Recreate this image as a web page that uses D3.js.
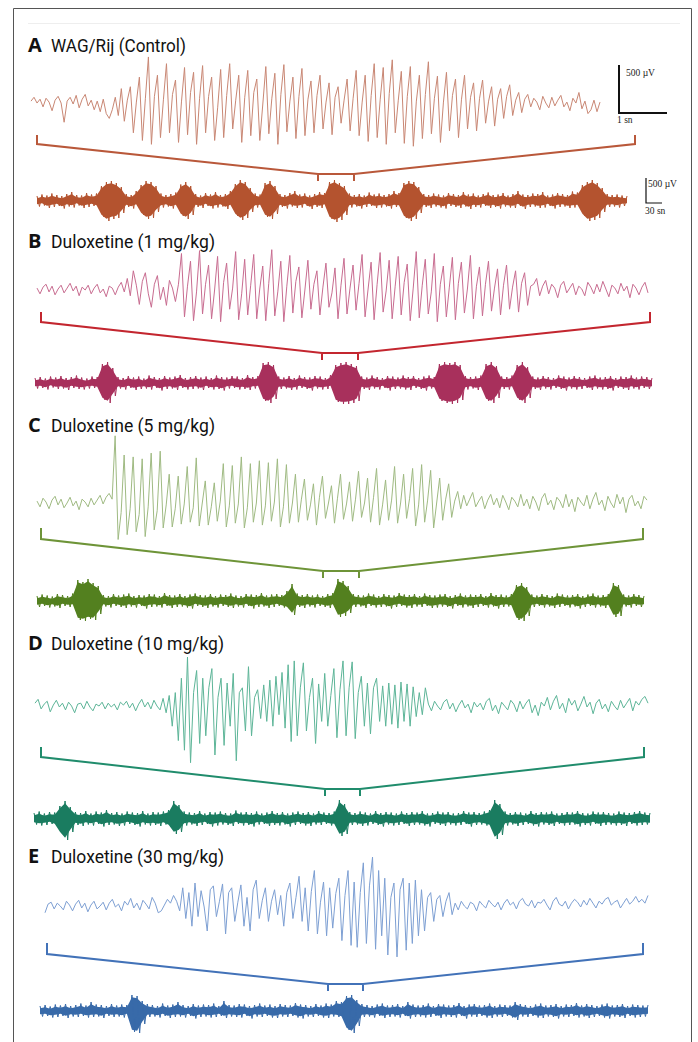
<!DOCTYPE html>
<html>
<head>
<meta charset="utf-8">
<script src="https://cdn.jsdelivr.net/npm/d3@7"></script>
<style>
  body { margin: 0; background: #fff; }
  .lbl { font-family: "Open Sans", sans-serif; font-weight: 700; font-size: 20px; fill: #111; }
  .ttl { font-family: Roboto, "Open Sans", sans-serif; font-size: 18px; fill: #111; }
  .sb  { font-family: "Liberation Serif", "DejaVu Serif", serif; font-size: 9.5px; fill: #222; }
</style>
</head>
<body>
<svg id="fig"></svg>
<script>
// panel labels and titles
var labels = ['A', 'B', 'C', 'D', 'E'];
var titles = ['WAG/Rij (Control)', 'Duloxetine (1 mg/kg)', 'Duloxetine (5 mg/kg)',
  'Duloxetine (10 mg/kg)', 'Duloxetine (30 mg/kg)'];
var scaleText = ['500 \u00b5V', '1 sn', '500 \u00b5V', '30 sn'];

// expanded traces (\u00b5V)
var traceA = [30, 70, 10, 50, -30, 60, 20, -70, 40, 80, 10, -190, 30, 70, 0, 90, -40, 50, 100, -20,
  40, -60, 30, -80, 50, -100, -150, -60, 70, -120,
  160, -180, 40, 180, -300, 20, 280, -380, 60, 490, -420, 80,
  300, -350, 50, 420, -300, 100, 250, -400, 30, 380, -320, 120, 330, -420, 60, 400, -300, 80,
  280, -380, -40, 360, -350, 90, 420, -260, 40, 300, -400, 70, 350, -330, 120, 260, -380, 0,
  390, -310, 60, 320, -420, 100, 410, -290, 30, 280, -360, 80, 370, -330, 50, 240, -300, 90,
  300, -260, 20, 220, -320, 70, 180, -200, 40, 260, -280, 60, 350, -330, 20, 300, -390, 90,
  420, -350, 50, 380, -420, 110, 460, -300, 40, 340, -410, 80, 390, -440, 30, 300, -360, 100,
  440, -310, 60, 290, -400, 20, 330, -280, 90, 260, -350, 50, 300, -260, 70,
  220, -280, 60, 250, -200, 30, 180, -230, 50, 160, -150, 80, 200, -120, 40, 120, -90,
  50, 100, -30, 60, 20, -60, 80, 10, -40, 70, -20, 40, 90, -30, 20, -70, 60, 10, 120, -50,
  30, -100, -60, 40, -80, 20];

var traceB = [20, -40, 30, 60, -20, 40, -50, 10, 50, -30, 20, 70, -10, 40, -60, 30, 0, 50, -40, 20,
  60, -30, 10, -70, 40, 20, -50, 30, 80, -20,
  120, -60, 200, 50, -150, 90, 180, -40, -180, 60, 150, -100, 30, -160, 100, 20, -120, 60,
  380, -280, 40, 300, -320, -20, 410, -250, 60, 260, -300, 0, 350, -330, 80, 280, -200, 20,
  400, -310, -40, 320, -260, 50, 370, -300, 10, 250, -320, 70, 420, -270, -20, 300, -330, 40,
  360, -240, 90, 240, -290, 0, 310, -200, 60, 200, -260, 30, 280, -180, -30, 230, -300, 50,
  330, -250, 20, 260, -210, 70, 370, -280, 10, 290, -310, 60, 390, -230, -10, 310, -300, 40,
  350, -260, 80, 270, -320, 20, 400, -290, 50, 320, -250, -20, 380, -330, 60, 250, -280, 30,
  340, -310, 70, 290, -240, 10, 360, -300, 40, 240, -270, 60, 300, -220, 20, 220, -260, 50,
  260, -200, 30, 200, -230, 70, 180, -160, 40, 60,
  120, -60, 40, 100, -40, 60, 20, -80, 50, 90, -30, 20, 70, -50, 40, 10, -60, 80, 30, -40,
  60, -20, 90, 10, -70, 50, 20, -40, 70, -10, 40, -80, 60, 20, -50, 30, 80, -30];

var traceC = [20, -40, 50, 10, -60, 30, 70, -20, 40, -50, 0, 60, -30, 20, -70, 40, 10, -40, 50, -20,
  30, 80, -10, 60, 100, 40,
  700, -380, -100, 500, -330, -60, 480, -300, -120, 460, -350, -40, 520, -280, -80, 540, -260, -20,
  300, -250, -60, 280, -220, -10, 380, -200, -50, 470, -240, 0, 230, -230, -40, 210, -190, 20,
  410, -250, -30, 390, -210, -10, 480, -260, -50, 410, -200, 0, 440, -230, -30, 420, -190, 10,
  460, -250, -40, 400, -210, 0, 300, -200, 40, 250, -180, -20, 200, -230, 60, 280, -160, 0,
  180, -210, 50, 300, -170, -10, 220, -190, 40, 330, -150, 0, 260, -200, 60, 360, -230, -20,
  240, -180, 30, 380, -210, 0, 300, -160, 50, 360, -240, -20, 400, -200, 30, 340, -260, 0,
  260, -180, 40, 200, -150, 20, 120, -60,
  80, -30, 40, 110, -40, 20, 70, -60, 30, 90, -20, 50, -50, 80, 10, -70, 60, 20, -40, 90,
  -30, 40, -60, 70, 10, -80, 50, 100, -20, 30, -70, 60, 20, -50, 90, -40, 40, -90, 60, 10,
  -30, 80, -60, 40, 110, -20, 30, -80, 70, 0, -50, 90, -10, 60, -100, 40, 80, -30, 20, -60, 70, 30];

var traceD = [40, 80, -20, 30, 60, -50, 20, 70, 0, 40, -30, 50, 10, -60, 30, 40, -20, 60, 0, -40,
  30, 10, 50, -20, 40, 0, 30, -30, 50, 20, 60, -10, 40, -40, 30, 80, 0, 50, -20, 70,
  10, -30, 90, -60, 120,
  -200, 150, -350, 300, -450,
  520, -580, 150, 380, -380, 300, -300, 200, 400, -500, 100, 300, -400, 250, -200, 350, -560, 150, 200, -250,
  420, -300, 100, 180, -120, 230, -150, 280, -200, 320, -80, 360, -220, 440, -360, 480, -300, 200,
  460, -250, 100, 300, -380, 240, -150, 350, -200, 120, 400, -320, 180,
  480, -300, 200, 470, -330, 150, 320, -200, 250, -280, 200, 300,
  -150, 220, -200, 250, -180, 230, -220, 260, -150, 240, -200, 210, -100, 150, -80, 200,
  30, -40, 60, 10, -30, 50, 80, -20, 40, -50, 20, 70, -10, 30, -60, 50, 0, 40, -30, 60,
  90, -40, 20, -70, 50, 10, -30, 70, 30, -50, 60, -20, 40, 80, -60, 20, -90, 50, 10, 100,
  -30, 60, 120, -20, 40, -60, 90, 20, 70, -40, 30, 110, 0, 50, -70, 40, 80, -20, 30, -50,
  60, 10, -30, 70, -10, 40, 90, -40, 60, 20, 80, 110, 40];

var traceE = [-60, 30, 50, -20, 40, 10, -30, 60, 20, -40, 30, 70, -10, 40, -50, 20, 60, -20, 10, 50,
  -30, 40, 80, 0, 30, -40, 60, 20, 90, -10, 40, -30, 70, 30, -20, 100, 40, -60, -40, 20,
  80, 40, 120, 60,
  -40, 200, -120, 150, -200, 250, -100, 170, 0, -250, 180, 220, -100, 60, 240, -280, 150, 200, -150, 50,
  230, -200, 100, -250, 180, 280, -120, 70, 200, -150, 60, 180, -80, 120, -200, 150, 250, -120, 100, 320,
  -150, 200, -250, 160, 380, -280, 50, 260, -300, 200, -220, 140, 300, -350, 120, 380, -400, 260, -420, 150,
  460, -380, 220, 520, -440, 380, -300, 300, -500, 100, 250, -520, 180, 300, -450, 250, -380, 280, -300, 180,
  -250, 100, 150, -150, 80, 120, -100, 60, 150, -80,
  40, -30, 60, 10, -20, 50, 30, -40, 60, 20, -10, 70, 30, 0, 50, -30, 40, 80, 20, 50,
  -20, 60, 90, 30, 10, 70, -10, 50, 40, 80, 20, -30, 60, 100, 30, 10, 60, -20, 40, 80,
  50, 0, 70, 20, 90, 40, -10, 60, 30, 80, 100, 20, 50, 70, -10, 40, 90, 30, 60, 110, 50, 80, 40, 120];

// compressed traces: upper and lower envelope (\u00b5V)
var upA = [100, 130, 110, 150, 120, 100, 140, 180, 120, 110, 160, 130, 150, 300, 380, 400, 360, 280,
  140, 120, 200, 320, 400, 380, 300, 150, 120, 140, 170, 330, 380, 300,
  140, 110, 160, 130, 180, 120, 140, 200, 340, 420, 380, 260, 150, 130, 360, 400, 300,
  140, 120, 160, 200, 130, 150, 110, 140, 180, 160, 380, 420, 360, 300,
  150, 120, 140, 110, 170, 130, 150, 120, 140, 200, 160, 360, 400, 380, 280,
  140, 120, 150, 130, 110, 160, 140, 120, 180, 130, 150, 110, 140, 170, 120, 130, 160, 110, 140, 200,
  130, 120, 150, 140, 180, 110, 130, 160, 140, 120, 190, 170, 320, 380, 420, 360, 260,
  140, 120, 130, 110, 100];
var dnA = [110, 90, 140, 120, 100, 150, 110, 130, 90, 140, 120, 100, 130, 320, 400, 360, 340, 240,
  120, 150, 110, 280, 360, 340, 220, 130, 110, 150, 120, 300, 360, 280,
  120, 140, 100, 150, 130, 110, 160, 120, 300, 380, 340, 220, 130, 120, 320, 360, 260,
  120, 150, 110, 140, 130, 100, 160, 120, 140, 110, 360, 420, 380, 280,
  130, 110, 150, 120, 100, 140, 130, 110, 150, 120, 130, 340, 400, 360, 240,
  120, 140, 110, 130, 150, 100, 120, 140, 110, 160, 120, 130, 100, 140, 120, 150, 110, 130, 140, 100,
  160, 120, 110, 140, 130, 100, 150, 120, 110, 140, 130, 120, 300, 400, 380, 340, 220,
  120, 110, 130, 100, 90];

var upB = [100, 120, 90, 130, 110, 140, 100, 120, 150, 110, 90, 130, 120, 380, 420, 300,
  120, 100, 140, 110, 130, 90, 150, 120, 100, 140, 110, 130, 160, 100, 120, 140, 110, 130, 100, 150,
  120, 110, 140, 130, 100, 160, 120, 140, 400, 420, 360,
  130, 110, 140, 100, 150, 120, 110, 140, 130, 100, 160, 360, 400, 420, 380, 340,
  130, 110, 150, 120, 100, 140, 130, 110, 150, 120, 140, 100, 130, 150, 120, 380, 420, 400, 420, 360,
  140, 120, 130, 150, 380, 420, 340, 130, 120, 150, 360, 420, 320,
  130, 110, 140, 120, 100, 150, 130, 110, 140, 120, 100, 130, 150, 110, 120, 140, 100, 130, 120, 150,
  110, 130, 120, 100];
var dnB = [110, 100, 130, 90, 120, 110, 140, 100, 120, 130, 110, 100, 120, 340, 400, 260,
  110, 130, 100, 140, 120, 110, 130, 100, 150, 120, 110, 140, 100, 130, 120, 110, 140, 100, 130, 120,
  150, 110, 100, 130, 120, 140, 110, 100, 360, 400, 320,
  120, 110, 140, 130, 100, 120, 150, 110, 130, 120, 100, 380, 420, 420, 400, 360,
  120, 140, 110, 130, 100, 150, 120, 110, 130, 140, 100, 120, 150, 110, 130, 360, 400, 420, 400, 340,
  130, 110, 140, 120, 360, 400, 300, 120, 130, 110, 340, 400, 300,
  120, 140, 110, 130, 100, 120, 150, 110, 130, 120, 100, 140, 110, 130, 120, 150, 100, 120, 140, 110,
  130, 100, 120, 110];

var upC = [100, 130, 110, 90, 140, 120, 100, 150, 420, 380, 440, 360, 300,
  120, 100, 140, 110, 130, 150, 100, 120, 110, 140, 130, 100, 160, 120, 110, 140, 100, 130, 150, 120,
  110, 140, 100, 130, 120, 150, 110, 100, 140, 130, 120, 160, 110, 130, 140, 120, 200, 340,
  150, 120, 140, 110, 130, 100, 140, 160, 440, 400, 300,
  140, 120, 110, 150, 130, 100, 140, 120, 110, 160, 130, 120, 140, 100, 150, 120, 110, 130, 140, 100,
  120, 150, 110, 130, 120, 140, 100, 160, 120, 130, 110, 140, 320, 360, 280,
  130, 110, 140, 120, 100, 150, 130, 110, 120, 140, 100, 130, 150, 110, 120, 140, 360, 320,
  130, 110, 140, 120, 100];
var dnC = [120, 100, 130, 110, 140, 100, 120, 110, 380, 400, 360, 380, 260,
  110, 130, 100, 120, 140, 110, 130, 100, 150, 120, 110, 130, 100, 140, 120, 110, 130, 150, 100, 120,
  140, 110, 130, 100, 120, 140, 110, 130, 100, 150, 120, 110, 140, 120, 100, 130, 160, 280,
  120, 140, 110, 130, 100, 120, 140, 110, 320, 300, 240,
  120, 110, 140, 100, 130, 120, 110, 150, 120, 100, 130, 140, 110, 120, 100, 140, 130, 110, 120, 150,
  100, 130, 110, 140, 120, 100, 130, 110, 150, 120, 110, 130, 380, 400, 300,
  120, 100, 130, 110, 140, 120, 100, 130, 110, 150, 120, 100, 130, 110, 140, 120, 320, 300,
  110, 130, 100, 120, 110];

var upD = [120, 150, 110, 140, 130, 260, 360, 240,
  140, 120, 160, 110, 150, 130, 180, 120, 140, 110, 150, 130, 120, 160, 110, 140, 130, 150, 180, 360, 280,
  150, 130, 120, 160, 110, 140, 130, 150, 120, 110, 170, 130, 140, 120, 150, 110, 130, 160, 120, 140,
  110, 130, 150, 120, 140, 110, 160, 130, 120, 150, 380, 300,
  140, 120, 150, 130, 110, 160, 120, 140, 130, 110, 150, 120, 140, 130, 160, 110, 120, 150, 130, 140,
  110, 120, 160, 130, 140, 120, 150, 180, 380, 300,
  150, 120, 140, 130, 110, 160, 120, 140, 130, 150, 110, 120, 140, 130, 160, 120, 110, 150, 130, 140,
  120, 110, 150, 130, 120, 140, 160, 130, 120];
var dnD = [110, 130, 120, 100, 140, 300, 420, 260,
  120, 140, 110, 130, 100, 150, 120, 110, 140, 130, 100, 120, 150, 110, 130, 120, 140, 110, 160, 300, 260,
  130, 110, 140, 120, 100, 150, 130, 110, 120, 140, 100, 130, 120, 150, 110, 100, 140, 120, 130, 110,
  150, 120, 100, 130, 140, 110, 120, 100, 130, 140, 340, 300,
  120, 110, 140, 130, 100, 120, 150, 110, 130, 120, 100, 140, 120, 110, 130, 150, 100, 120, 140, 110,
  130, 120, 100, 150, 120, 110, 130, 160, 400, 320,
  130, 110, 140, 120, 100, 130, 150, 110, 120, 140, 100, 130, 120, 110, 150, 120, 130, 100, 140, 120,
  110, 130, 120, 140, 100, 130, 120, 110, 120];

var upE = [100, 120, 90, 130, 110, 140, 100, 120, 150, 110, 180, 130, 120, 100, 140, 110, 130, 120,
  320, 300, 200,
  140, 120, 100, 150, 110, 130, 180, 120, 100, 140, 110, 130, 120, 150, 100, 200, 120, 110, 140, 130,
  100, 120, 150, 110, 130, 100, 140, 120, 110, 160, 130, 120, 100, 140, 110, 150, 130, 200, 180,
  300, 320, 220,
  140, 120, 100, 130, 150, 110, 120, 140, 100, 180, 130, 110, 120, 150, 100, 140, 130, 110, 120, 160,
  100, 130, 140, 110, 120, 150, 100, 130, 120, 110, 180, 140, 120, 100, 130, 150, 110, 120, 140, 100,
  130, 120, 160, 110, 140, 120, 100, 130, 150, 110, 120, 140, 100, 130, 120, 110, 120];
var dnE = [110, 100, 130, 120, 100, 140, 110, 120, 100, 130, 120, 110, 140, 100, 120, 110, 130, 100,
  420, 440, 260,
  120, 110, 130, 100, 140, 120, 110, 130, 100, 150, 120, 110, 130, 120, 100, 140, 110, 120, 130, 100,
  150, 110, 120, 100, 130, 140, 110, 120, 100, 130, 150, 110, 120, 100, 130, 140, 110, 120, 150,
  380, 440, 300,
  120, 110, 130, 100, 140, 120, 110, 130, 100, 150, 120, 110, 130, 120, 100, 140, 110, 120, 130, 100,
  150, 110, 120, 100, 130, 140, 110, 120, 100, 130, 180, 110, 120, 100, 130, 140, 110, 120, 150, 110,
  120, 100, 130, 110, 140, 120, 100, 130, 150, 110, 120, 140, 100, 130, 120, 110, 100];

var traces = [traceA, traceB, traceC, traceD, traceE];
var ups = [upA, upB, upC, upD, upE];
var dns = [dnA, dnB, dnC, dnD, dnE];

// layout and colours of each panel
var panels = [
  { ty: 52, tw: 135, top: [31, 600, 104], br: [37, 635, 135, 144, 318, 354, 174], bot: [37, 627, 201],
    c: ['#c98774', '#b9583a', '#b4532f'] },
  { ty: 248, tw: 164, top: [37, 648, 290], br: [41, 650, 312, 322, 322, 358, 353], bot: [35, 652, 383],
    c: ['#c86c90', '#c3262f', '#a8305c'] },
  { ty: 432, tw: 164, top: [37, 647, 503], br: [41, 643, 528, 539, 323, 359, 571], bot: [37, 644, 601],
    c: ['#9fba82', '#6e9438', '#53801f'] },
  { ty: 650, tw: 173, top: [35, 648, 707], br: [41, 644, 747, 757, 325, 360, 789], bot: [34, 650, 819],
    c: ['#5db598', '#208c6c', '#1a7c60'] },
  { ty: 863, tw: 173, top: [45, 648, 907], br: [47, 643, 943, 954, 328, 363, 984], bot: [40, 648, 1011],
    c: ['#7d9fd3', '#4272b8', '#386aa9'] }
];

var W = 698, H = 1042;
var svg = d3.select('#fig').attr('width', W).attr('height', H);

// frame
svg.append('path')
  .attr('d', 'M13.5,' + H + 'V8.5H691.5V' + H)
  .attr('fill', 'none').attr('stroke', '#555').attr('stroke-width', 1);
svg.append('line')
  .attr('x1', 28).attr('x2', 680).attr('y1', 23.5).attr('y2', 23.5)
  .attr('stroke', '#eee');

var topAmp = 48;   // px for 500 uV on the expanded trace
var botAmp = 25;   // px for 500 uV on the compressed trace
var hair = 45;     // uV of the envelope drawn as hair instead of solid band

panels.forEach(function(p, k) {
  var g = svg.append('g');

  g.append('text').attr('class', 'lbl').attr('x', 28).attr('y', p.ty).text(labels[k]);
  g.append('text').attr('class', 'ttl').attr('x', 51).attr('y', p.ty)
    .attr('textLength', p.tw).attr('lengthAdjust', 'spacingAndGlyphs')
    .text(titles[k]);

  // expanded trace
  var tr = traces[k];
  var x = d3.scaleLinear().domain([0, tr.length - 1]).range([p.top[0], p.top[1]]);
  var y = d3.scaleLinear().domain([-500, 500]).range([p.top[2] + topAmp, p.top[2] - topAmp]);
  g.append('path')
    .datum(tr)
    .attr('d', d3.line().x(function(d, i) { return x(i); }).y(function(d) { return y(d); }))
    .attr('fill', 'none')
    .attr('stroke', p.c[0])
    .attr('stroke-width', 1)
    .attr('stroke-linejoin', 'round');

  // bracket
  var b = p.br;
  var bp = d3.path();
  bp.moveTo(b[0], b[2]); bp.lineTo(b[0], b[3]);
  bp.lineTo(b[4], b[6]); bp.lineTo(b[5], b[6]);
  bp.lineTo(b[1], b[3]); bp.lineTo(b[1], b[2]);
  bp.moveTo(b[4], b[6]); bp.lineTo(b[4], b[6] + 7);
  bp.moveTo(b[5], b[6]); bp.lineTo(b[5], b[6] + 7);
  g.append('path').attr('d', bp.toString())
    .attr('fill', 'none').attr('stroke', p.c[1]).attr('stroke-width', 2);

  // compressed trace: solid band plus a zigzag out to the envelope
  var up = ups[k], dn = dns[k];
  var xb = d3.scaleLinear().domain([0, up.length - 1]).range([p.bot[0], p.bot[1]]);
  var yb = d3.scaleLinear().domain([-500, 500]).range([p.bot[2] + botAmp, p.bot[2] - botAmp]);
  g.append('path')
    .datum(up)
    .attr('d', d3.area()
      .x(function(d, i) { return xb(i); })
      .y0(function(d, i) { return yb(-(dn[i] - hair)); })
      .y1(function(d) { return yb(d - hair); }))
    .attr('fill', p.c[2]);

  var zig = [];
  up.forEach(function(d, i) {
    zig.push([xb(i), yb(d)]);
    if (i < up.length - 1) zig.push([xb(i + 0.5), yb(-dn[i])]);
  });
  g.append('path')
    .datum(zig)
    .attr('d', d3.line())
    .attr('fill', 'none')
    .attr('stroke', p.c[2])
    .attr('stroke-width', 1);

  if (k == 0) {
    // scale bars
    g.append('path')
      .attr('d', 'M619,' + (113 - (y(0) - y(500))) + 'V113H667')
      .attr('fill', 'none').attr('stroke', '#111').attr('stroke-width', 2);
    g.append('text').attr('class', 'sb').attr('x', 626).attr('y', 76).text(scaleText[0]);
    g.append('text').attr('class', 'sb').attr('x', 617).attr('y', 123).text(scaleText[1]);

    g.append('path')
      .attr('d', 'M646,' + (203 - (yb(0) - yb(500))) + 'V203H662')
      .attr('fill', 'none').attr('stroke', '#111').attr('stroke-width', 1.2);
    g.append('text').attr('class', 'sb').attr('x', 648).attr('y', 187).text(scaleText[2]);
    g.append('text').attr('class', 'sb').attr('x', 645).attr('y', 214).text(scaleText[3]);
  }
});
</script>
</body>
</html>
